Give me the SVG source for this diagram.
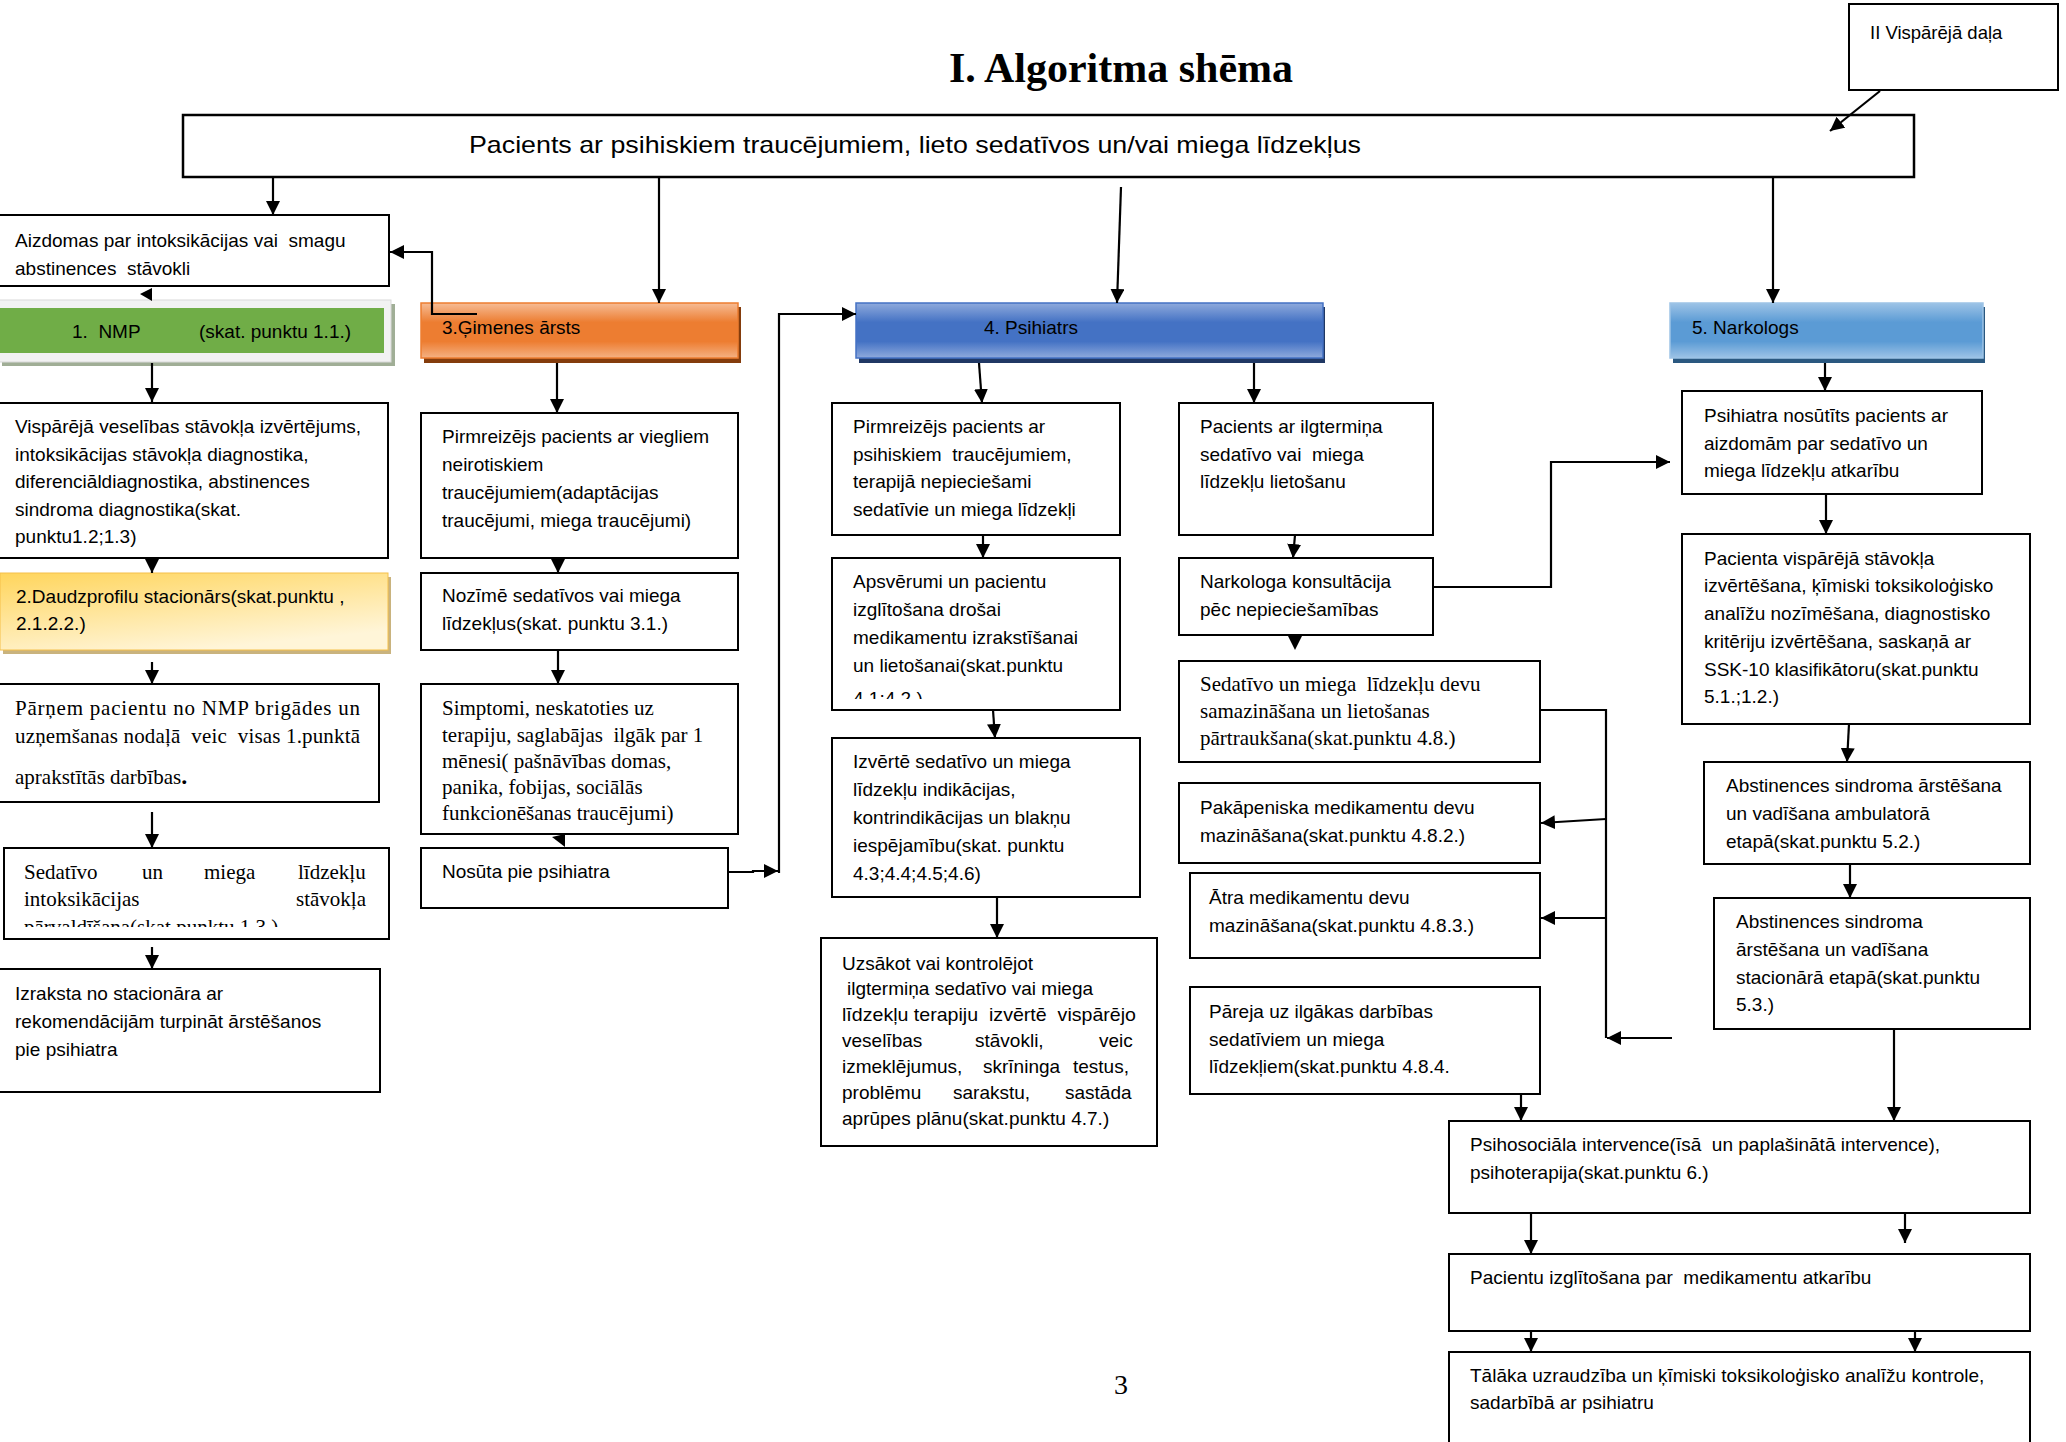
<svg xmlns="http://www.w3.org/2000/svg" width="2066" height="1442" viewBox="0 0 2066 1442">
<style>
.box{fill:#fff;stroke:#000;stroke-width:2}
.t{font-family:'Liberation Sans',Arial,sans-serif;font-size:19px;fill:#000}
.ts{font-family:'Liberation Serif','Times New Roman',serif;font-size:21px;fill:#000}
.c{stroke:#000;stroke-width:2.2;fill:none;marker-end:url(#ah)}
.l{stroke:#000;stroke-width:2.2;fill:none}
</style>
<defs>
<marker id="ah" markerUnits="userSpaceOnUse" viewBox="0 0 14 14" markerWidth="14" markerHeight="14" refX="14" refY="7" orient="auto"><path d="M0,0 L14,7 L0,14 z" fill="#000"/></marker>
<linearGradient id="gOr" x1="0" y1="0" x2="0" y2="1"><stop offset="0" stop-color="#f6bc95"/><stop offset="0.35" stop-color="#ed7d31"/><stop offset="0.7" stop-color="#ed7d31"/><stop offset="1" stop-color="#f4b183"/></linearGradient>
<linearGradient id="gBl" x1="0" y1="0" x2="0" y2="1"><stop offset="0" stop-color="#8faadc"/><stop offset="0.35" stop-color="#4472c4"/><stop offset="0.7" stop-color="#4472c4"/><stop offset="1" stop-color="#8faadc"/></linearGradient>
<linearGradient id="gLb" x1="0" y1="0" x2="0" y2="1"><stop offset="0" stop-color="#9dc3e6"/><stop offset="0.35" stop-color="#5b9bd5"/><stop offset="0.7" stop-color="#5b9bd5"/><stop offset="1" stop-color="#9dc3e6"/></linearGradient>
<linearGradient id="gYe" x1="0" y1="0" x2="0.5" y2="1"><stop offset="0" stop-color="#ffd55c"/><stop offset="1" stop-color="#fff5d8"/></linearGradient>
<clipPath id="clipApsv"><rect x="832" y="558" width="288" height="141"/></clipPath>
<clipPath id="clipSed"><rect x="4" y="848" width="385" height="79"/></clipPath>
</defs>

<text x="1121" y="82" text-anchor="middle" style="font-family:'Liberation Serif','Times New Roman',serif;font-size:42px;font-weight:bold">I. Algoritma shēma</text>
<text x="1121" y="1394" text-anchor="middle" style="font-family:'Liberation Serif','Times New Roman',serif;font-size:28px">3</text>

<g id="n-visparejadala"><rect class="box" x="1849" y="4" width="209" height="86"/><text class="t" x="1870" y="39" style="font-size:18.5px">II Vispārējā daļa</text></g>

<g id="n-top"><rect class="box" x="183" y="115" width="1731" height="62" style="stroke-width:2.5"/><text class="t" x="469" y="153" style="font-size:24px" textLength="892" lengthAdjust="spacingAndGlyphs">Pacients ar psihiskiem traucējumiem, lieto sedatīvos un/vai miega līdzekļus</text></g>

<g id="n-aizdomas"><rect class="box" x="-2" y="215" width="391" height="71"/><text class="t" x="15" y="247" xml:space="preserve">Aizdomas par intoksikācijas vai  smagu</text><text class="t" x="15" y="275" xml:space="preserve">abstinences  stāvokli</text></g>

<g id="n-nmp"><rect x="2" y="304" width="393" height="62" fill="#a0ae96"/><rect x="-2" y="300" width="393" height="62" fill="#f2f2f2" stroke="#d9d9d9" stroke-width="1"/><rect x="0" y="308" width="384" height="45" fill="#70ad47"/><text class="t" x="72" y="338" xml:space="preserve">1.  NMP</text><text class="t" x="199" y="338">(skat. punktu 1.1.)</text></g>

<g id="n-visp"><rect class="box" x="-2" y="403" width="390" height="155"/>
<text class="t" x="15" y="433">Vispārējā veselības stāvokļa izvērtējums,</text>
<text class="t" x="15" y="461">intoksikācijas stāvokļa diagnostika,</text>
<text class="t" x="15" y="488">diferenciāldiagnostika, abstinences</text>
<text class="t" x="15" y="516">sindroma diagnostika(skat.</text>
<text class="t" x="15" y="543">punktu1.2;1.3)</text></g>

<g id="n-daudz"><rect x="3" y="577" width="388" height="77" fill="#c9b37e"/><rect x="0" y="573" width="388" height="77" fill="url(#gYe)" stroke="#f5c04a" stroke-width="1"/>
<text class="t" x="16" y="603">2.Daudzprofilu stacionārs(skat.punktu ,</text>
<text class="t" x="16" y="630">2.1.2.2.)</text></g>

<g id="n-parnem"><rect class="box" x="-2" y="684" width="381" height="118"/>
<text class="ts" x="15" y="715" textLength="345" lengthAdjust="spacing">Pārņem pacientu no NMP brigādes un</text>
<text class="ts" x="15" y="743" textLength="345" lengthAdjust="spacing" xml:space="preserve">uzņemšanas nodaļā  veic  visas 1.punktā</text>
<text class="ts" x="15" y="784">aprakstītās darbības<tspan style="font-weight:bold;font-size:24px">.</tspan></text></g>

<g id="n-sedint"><rect class="box" x="4" y="848" width="385" height="91"/>
<g clip-path="url(#clipSed)">
<text class="ts" y="879"><tspan x="24">Sedatīvo</tspan><tspan x="142">un</tspan><tspan x="204">miega</tspan><tspan x="298">līdzekļu</tspan></text>
<text class="ts" y="906"><tspan x="24">intoksikācijas</tspan><tspan x="296">stāvokļa</tspan></text>
<text class="ts" x="24" y="934">pārvaldīšana(skat.punktu 1.3.)</text></g></g>

<g id="n-izraksta"><rect class="box" x="-2" y="969" width="382" height="123"/>
<text class="t" x="15" y="1000">Izraksta no stacionāra ar</text>
<text class="t" x="15" y="1028">rekomendācijām turpināt ārstēšanos</text>
<text class="t" x="15" y="1056">pie psihiatra</text></g>

<g id="n-gimenes"><rect x="424" y="307" width="317" height="56" fill="#843c0c"/><rect x="421" y="303" width="317" height="55" fill="url(#gOr)" stroke="#ed7d31" stroke-width="1.5"/><text class="t" x="442" y="334">3.Ģimenes ārsts</text></g>

<g id="n-pirm-g"><rect class="box" x="421" y="413" width="317" height="145"/>
<text class="t" x="442" y="443">Pirmreizējs pacients ar viegliem</text>
<text class="t" x="442" y="471">neirotiskiem</text>
<text class="t" x="442" y="499">traucējumiem(adaptācijas</text>
<text class="t" x="442" y="527">traucējumi, miega traucējumi)</text></g>

<g id="n-nozime"><rect class="box" x="421" y="573" width="317" height="77"/>
<text class="t" x="442" y="602">Nozīmē sedatīvos vai miega</text>
<text class="t" x="442" y="630">līdzekļus(skat. punktu 3.1.)</text></g>

<g id="n-simptomi"><rect class="box" x="421" y="684" width="317" height="150"/>
<text class="ts" x="442" y="715">Simptomi, neskatoties uz</text>
<text class="ts" x="442" y="742" xml:space="preserve">terapiju, saglabājas  ilgāk par 1</text>
<text class="ts" x="442" y="768">mēnesi( pašnāvības domas,</text>
<text class="ts" x="442" y="794">panika, fobijas, sociālās</text>
<text class="ts" x="442" y="820">funkcionēšanas traucējumi)</text></g>

<g id="n-nosuta"><rect class="box" x="421" y="848" width="307" height="60"/><text class="t" x="442" y="878">Nosūta pie psihiatra</text></g>

<g id="n-psihiatrs"><rect x="859" y="307" width="466" height="56" fill="#203864"/><rect x="856" y="303" width="467" height="55" fill="url(#gBl)" stroke="#4472c4" stroke-width="1.5"/><text class="t" x="984" y="334">4. Psihiatrs</text></g>

<g id="n-narkologs"><rect x="1673" y="307" width="312" height="56" fill="#2a5880"/><rect x="1670" y="303" width="313" height="55" fill="url(#gLb)" stroke="#9dc3e6" stroke-width="1.5"/><text class="t" x="1692" y="334">5. Narkologs</text></g>

<g id="n-pirm-p"><rect class="box" x="832" y="403" width="288" height="132"/>
<text class="t" x="853" y="433">Pirmreizējs pacients ar</text>
<text class="t" x="853" y="461" xml:space="preserve">psihiskiem  traucējumiem,</text>
<text class="t" x="853" y="488">terapijā nepieciešami</text>
<text class="t" x="853" y="516">sedatīvie un miega līdzekļi</text></g>

<g id="n-apsv"><rect class="box" x="832" y="558" width="288" height="152"/>
<g clip-path="url(#clipApsv)">
<text class="t" x="853" y="588">Apsvērumi un pacientu</text>
<text class="t" x="853" y="616">izglītošana drošai</text>
<text class="t" x="853" y="644">medikamentu izrakstīšanai</text>
<text class="t" x="853" y="672">un lietošanai(skat.punktu</text>
<text class="t" x="853" y="705">4.1;4.2.)</text></g></g>

<g id="n-izverte"><rect class="box" x="832" y="738" width="308" height="159"/>
<text class="t" x="853" y="768">Izvērtē sedatīvo un miega</text>
<text class="t" x="853" y="796">līdzekļu indikācijas,</text>
<text class="t" x="853" y="824">kontrindikācijas un blakņu</text>
<text class="t" x="853" y="852">iespējamību(skat. punktu</text>
<text class="t" x="853" y="880">4.3;4.4;4.5;4.6)</text></g>

<g id="n-uzsakot"><rect class="box" x="821" y="938" width="336" height="208"/>
<text class="t" x="842" y="970">Uzsākot vai kontrolējot</text>
<text class="t" x="847" y="995">ilgtermiņa sedatīvo vai miega</text>
<text class="t" x="842" y="1021" textLength="294" lengthAdjust="spacingAndGlyphs" xml:space="preserve">līdzekļu terapiju  izvērtē  vispārējo</text>
<text class="t" y="1047"><tspan x="842">veselības</tspan><tspan x="975">stāvokli,</tspan><tspan x="1099">veic</tspan></text>
<text class="t" y="1073"><tspan x="842">izmeklējumus,</tspan><tspan x="983">skrīninga</tspan><tspan x="1073">testus,</tspan></text>
<text class="t" y="1099"><tspan x="842">problēmu</tspan><tspan x="953">sarakstu,</tspan><tspan x="1065">sastāda</tspan></text>
<text class="t" x="842" y="1125">aprūpes plānu(skat.punktu 4.7.)</text></g>

<g id="n-ilgt"><rect class="box" x="1179" y="403" width="254" height="132"/>
<text class="t" x="1200" y="433">Pacients ar ilgtermiņa</text>
<text class="t" x="1200" y="461" xml:space="preserve">sedatīvo vai  miega</text>
<text class="t" x="1200" y="488">līdzekļu lietošanu</text></g>

<g id="n-narkkons"><rect class="box" x="1179" y="558" width="254" height="77"/>
<text class="t" x="1200" y="588">Narkologa konsultācija</text>
<text class="t" x="1200" y="616">pēc nepieciešamības</text></g>

<g id="n-sedevu"><rect class="box" x="1179" y="661" width="361" height="101"/>
<text class="ts" x="1200" y="691" xml:space="preserve">Sedatīvo un miega  līdzekļu devu</text>
<text class="ts" x="1200" y="718">samazināšana un lietošanas</text>
<text class="ts" x="1200" y="745">pārtraukšana(skat.punktu 4.8.)</text></g>

<g id="n-pakap"><rect class="box" x="1179" y="783" width="361" height="80"/>
<text class="t" x="1200" y="814">Pakāpeniska medikamentu devu</text>
<text class="t" x="1200" y="842">mazināšana(skat.punktu 4.8.2.)</text></g>

<g id="n-atra"><rect class="box" x="1190" y="873" width="350" height="85"/>
<text class="t" x="1209" y="904">Ātra medikamentu devu</text>
<text class="t" x="1209" y="932">mazināšana(skat.punktu 4.8.3.)</text></g>

<g id="n-pareja"><rect class="box" x="1190" y="987" width="350" height="107"/>
<text class="t" x="1209" y="1018">Pāreja uz ilgākas darbības</text>
<text class="t" x="1209" y="1046">sedatīviem un miega</text>
<text class="t" x="1209" y="1073">līdzekļiem(skat.punktu 4.8.4.</text></g>

<g id="n-psihnos"><rect class="box" x="1682" y="391" width="300" height="103"/>
<text class="t" x="1704" y="422">Psihiatra nosūtīts pacients ar</text>
<text class="t" x="1704" y="450">aizdomām par sedatīvo un</text>
<text class="t" x="1704" y="477">miega līdzekļu atkarību</text></g>

<g id="n-pacvisp"><rect class="box" x="1682" y="534" width="348" height="190"/>
<text class="t" x="1704" y="565">Pacienta vispārējā stāvokļa</text>
<text class="t" x="1704" y="592">izvērtēšana, ķīmiski toksikoloģisko</text>
<text class="t" x="1704" y="620">analīžu nozīmēšana, diagnostisko</text>
<text class="t" x="1704" y="648">kritēriju izvērtēšana, saskaņā ar</text>
<text class="t" x="1704" y="676">SSK-10 klasifikātoru(skat.punktu</text>
<text class="t" x="1704" y="703">5.1.;1.2.)</text></g>

<g id="n-abstamb"><rect class="box" x="1704" y="762" width="326" height="102"/>
<text class="t" x="1726" y="792">Abstinences sindroma ārstēšana</text>
<text class="t" x="1726" y="820">un vadīšana ambulatorā</text>
<text class="t" x="1726" y="848">etapā(skat.punktu 5.2.)</text></g>

<g id="n-abststac"><rect class="box" x="1714" y="898" width="316" height="131"/>
<text class="t" x="1736" y="928">Abstinences sindroma</text>
<text class="t" x="1736" y="956">ārstēšana un vadīšana</text>
<text class="t" x="1736" y="984">stacionārā etapā(skat.punktu</text>
<text class="t" x="1736" y="1011">5.3.)</text></g>

<g id="n-psihosoc"><rect class="box" x="1449" y="1121" width="581" height="92"/>
<text class="t" x="1470" y="1151" xml:space="preserve">Psihosociāla intervence(īsā  un paplašinātā intervence),</text>
<text class="t" x="1470" y="1179">psihoterapija(skat.punktu 6.)</text></g>

<g id="n-izglit"><rect class="box" x="1449" y="1254" width="581" height="77"/>
<text class="t" x="1470" y="1284" xml:space="preserve">Pacientu izglītošana par  medikamentu atkarību</text></g>

<g id="n-talaka"><rect class="box" x="1449" y="1352" width="581" height="100"/>
<text class="t" x="1470" y="1382">Tālāka uzraudzība un ķīmiski toksikoloģisko analīžu kontrole,</text>
<text class="t" x="1470" y="1409">sadarbībā ar psihiatru</text></g>

<g id="connectors">
<line class="c" x1="1880" y1="91" x2="1830" y2="131"/>
<line class="c" x1="273" y1="177" x2="273" y2="215"/>
<line class="c" x1="659" y1="177" x2="659" y2="303"/>
<line class="c" x1="1121" y1="187" x2="1117" y2="303"/>
<line class="c" x1="1773" y1="177" x2="1773" y2="303"/>
<path class="c" d="M477,314 H432 V252 H390"/>
<polygon points="140,294 152,288 152,301" fill="#000"/>
<line class="c" x1="152" y1="363" x2="152" y2="402"/>
<line class="c" x1="152" y1="558" x2="152" y2="573"/>
<line class="c" x1="152" y1="662" x2="152" y2="684"/>
<line class="c" x1="152" y1="812" x2="152" y2="848"/>
<line class="c" x1="152" y1="947" x2="152" y2="969"/>
<line class="c" x1="557" y1="363" x2="557" y2="413"/>
<line class="c" x1="558" y1="558" x2="558" y2="573"/>
<line class="c" x1="558" y1="650" x2="558" y2="684"/>
<polygon points="552,837 565,834 565,847" fill="#000"/>
<path class="c" d="M728,872 H753 V871 H778"/>
<path class="c" d="M779,873 V314 H856"/>
<line class="c" x1="979" y1="363" x2="982" y2="403"/>
<line class="c" x1="1254" y1="363" x2="1254" y2="403"/>
<line class="c" x1="983" y1="535" x2="983" y2="558"/>
<line class="c" x1="993" y1="710" x2="995" y2="738"/>
<line class="c" x1="997" y1="897" x2="997" y2="938"/>
<line class="c" x1="1295" y1="535" x2="1293" y2="558"/>
<path class="c" d="M1433,587 H1551 V462 H1670"/>
<polygon points="1288,636 1302,636 1295,650" fill="#000"/>
<path class="l" d="M1540,710 H1606 V1038"/>
<line class="c" x1="1606" y1="819" x2="1541" y2="823"/>
<line class="c" x1="1606" y1="918" x2="1541" y2="918"/>
<line class="c" x1="1672" y1="1038" x2="1607" y2="1038"/>
<line class="c" x1="1521" y1="1094" x2="1521" y2="1121"/>
<line class="c" x1="1825" y1="363" x2="1825" y2="391"/>
<line class="c" x1="1826" y1="494" x2="1826" y2="534"/>
<line class="c" x1="1849" y1="724" x2="1847" y2="762"/>
<line class="c" x1="1850" y1="864" x2="1850" y2="898"/>
<line class="c" x1="1894" y1="1029" x2="1894" y2="1121"/>
<line class="c" x1="1531" y1="1213" x2="1531" y2="1254"/>
<line class="c" x1="1905" y1="1213" x2="1905" y2="1243"/>
<line class="c" x1="1531" y1="1331" x2="1531" y2="1352"/>
<line class="c" x1="1915" y1="1331" x2="1915" y2="1352"/>
</g>
</svg>
